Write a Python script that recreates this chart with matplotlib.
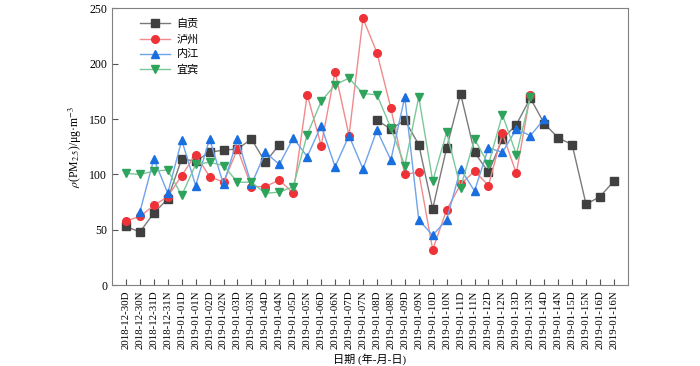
#!/usr/bin/env python3
"""
PM2.5 day/night concentrations for four cities.
"""
import numpy as np
from matplotlib import pyplot as plt

plt.rcParams['font.family'] = ['Liberation Serif', 'Noto Sans CJK SC']
plt.rcParams['mathtext.fontset'] = 'stix'

nan = np.nan

dates = ["2018-12-30", "2018-12-31"] + ["2019-01-%02d" % d for d in range(1, 17)]
labels = [d + s for d in dates for s in ("D", "N")]

zigong = [53, 48, 65, 78, 114, 112, 120, 122, 123, 132, 111, 127,
          nan, nan, nan, nan, nan, nan, 149, 141, 149, 127, 69, 124,
          173, 120, 102, 132, 145, 169, 146, 133, 127, 73, 80, 94]
luzhou = [58, 62, 72, 80, 99, 118, 98, 93, 123, 89, 89, 95,
          83, 172, 126, 193, 135, 241, 210, 160, 100, 102, 32, 68,
          91, 103, 90, 137, 101, 172]
neijiang = [nan, 66, 114, 83, 131, 90, 132, 91, 132, 91, 120, 109,
            133, 116, 144, 107, 135, 105, 140, 113, 170, 59, 45, 59,
            105, 85, 124, 120, 141, 135, 150]
yibin = [101, 100, 103, 104, 81, 109, 111, 108, 93, 93, 83, 84,
         89, 136, 166, 181, 187, 173, 172, 142, 108, 170, 94, 138,
         88, 132, 109, 154, 118, 170]

series = [
    ("自贡", zigong, "s", "#404040", "#7a7a7a"),
    ("泸州", luzhou, "o", "#ee3338", "#f08a8c"),
    ("内江", neijiang, "^", "#1a6fe0", "#6fa3ea"),
    ("宜宾", yibin, "v", "#2ea35c", "#7cc79a"),
]

fig = plt.figure(figsize=(7, 3.66), dpi=100)
ax = fig.add_axes([0.16, 0.221, 0.737, 0.756])

for name, vals, m, mc, lc in series:
    x = np.arange(len(vals))
    ax.plot(x, vals, color=lc, lw=1.0, marker=m, ms=5.5,
            mfc=mc, mec=mc, label=name)

ax.set_xlim(-1, 36)
ax.set_ylim(0, 250)
ax.set_xticks(np.arange(len(labels)))
ax.set_xticklabels(labels, rotation=90, fontsize=7.8)
ax.set_yticks(np.arange(0, 251, 50))
ax.tick_params(axis="y", labelsize=8.5, direction="in", length=4)
ax.tick_params(axis="x", direction="in", length=4, pad=4)
for s in ax.spines.values():
    s.set_color("#808080")
ax.tick_params(colors="#555555", labelcolor="black")

ax.set_xlabel("日期 (年-月-日)", fontsize=8, labelpad=3)
ax.set_ylabel(r"$\rho$(PM$_{2.5}$)/μg·m$^{-3}$", fontsize=8.5)

ax.legend(loc="upper left", bbox_to_anchor=(0.055, 0.962), frameon=False,
          borderaxespad=0, borderpad=0, fontsize=8, handlelength=2.7,
          handletextpad=0.55, labelspacing=0.45)

fig.savefig("out.png", dpi=100)
